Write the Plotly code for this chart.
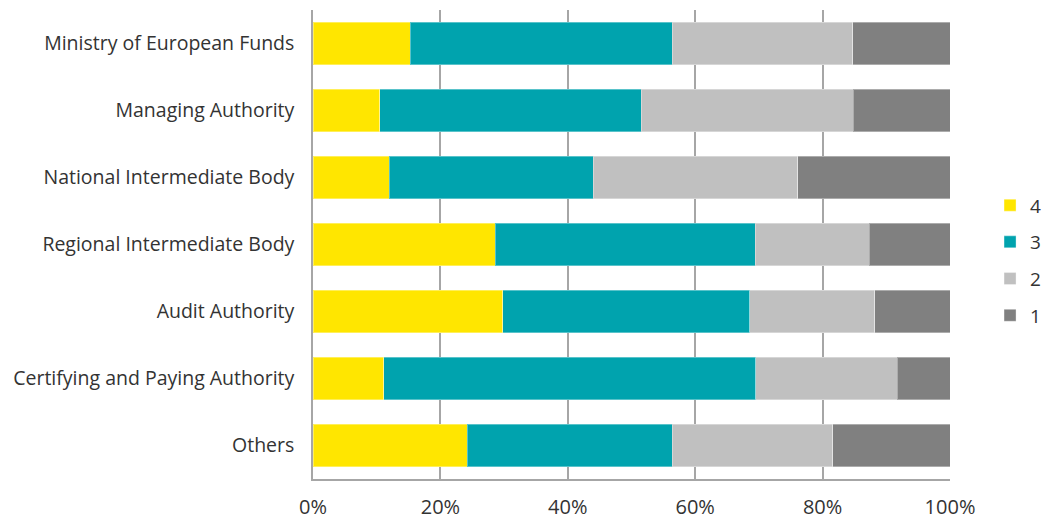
import plotly.graph_objects as go

# Survey responses by institution, share of each rating (percent)
categories = [
    "Ministry of European Funds",
    "Managing Authority",
    "National Intermediate Body",
    "Regional Intermediate Body",
    "Audit Authority",
    "Certifying and Paying Authority",
    "Others",
]
rating_4 = [15.3, 10.5, 12.0, 28.6, 29.8, 11.1, 24.2]
rating_3 = [41.1, 41.0, 32.0, 40.8, 38.8, 58.4, 32.2]
rating_2 = [28.3, 33.3, 32.1, 17.9, 19.6, 22.2, 25.2]
rating_1 = [15.3, 15.2, 23.9, 12.7, 11.8, 8.3, 18.4]

x_ticks = [0, 20, 40, 60, 80, 100]
x_tick_labels = ["0%", "20%", "40%", "60%", "80%", "100%"]

series = [
    ("4", rating_4, "#FFE600"),
    ("3", rating_3, "#00A3AE"),
    ("2", rating_2, "#C0C0C0"),
    ("1", rating_1, "#808080"),
]

FONT = "Open Sans"
TEXT = "#333333"
GRID = "#A6A6A6"

fig = go.Figure()
for name, values, color in series:
    fig.add_trace(
        go.Bar(
            y=categories,
            x=values,
            name=name,
            orientation="h",
            legendgroup=name,
            marker=dict(color=color, line=dict(color="rgba(255,255,255,0.35)", width=1)),
            hoverinfo="x+y+name",
        )
    )

fig.update_layout(
    width=1046,
    height=519,
    barmode="stack",
    bargap=0.36,
    plot_bgcolor="white",
    paper_bgcolor="white",
    margin=dict(l=313, r=96, t=10, b=40, autoexpand=False),
    font=dict(family=FONT, size=19, color=TEXT),
    showlegend=True,
    legend=dict(
        xref="container",
        yref="container",
        x=0.9465,
        y=0.641,
        xanchor="left",
        yanchor="top",
        traceorder="grouped",
        tracegroupgap=9,
        itemwidth=30,
        font=dict(family=FONT, size=19, color=TEXT),
        bgcolor="rgba(0,0,0,0)",
    ),
    xaxis=dict(
        range=[0, 100],
        tickvals=x_ticks,
        ticktext=x_tick_labels,
        showgrid=True,
        gridcolor=GRID,
        gridwidth=1.5,
        showline=True,
        linecolor=GRID,
        linewidth=1.5,
        zeroline=False,
        ticks="",
        ticklabelstandoff=9,
        tickfont=dict(family=FONT, size=20, color=TEXT),
        fixedrange=True,
    ),
    yaxis=dict(
        categoryorder="array",
        categoryarray=categories,
        autorange="reversed",
        showgrid=False,
        showline=True,
        linecolor=GRID,
        linewidth=1.5,
        ticks="",
        ticklabelstandoff=13,
        tickfont=dict(family=FONT, size=19.5, color=TEXT),
        fixedrange=True,
    ),
)

fig.write_html("out.html")
